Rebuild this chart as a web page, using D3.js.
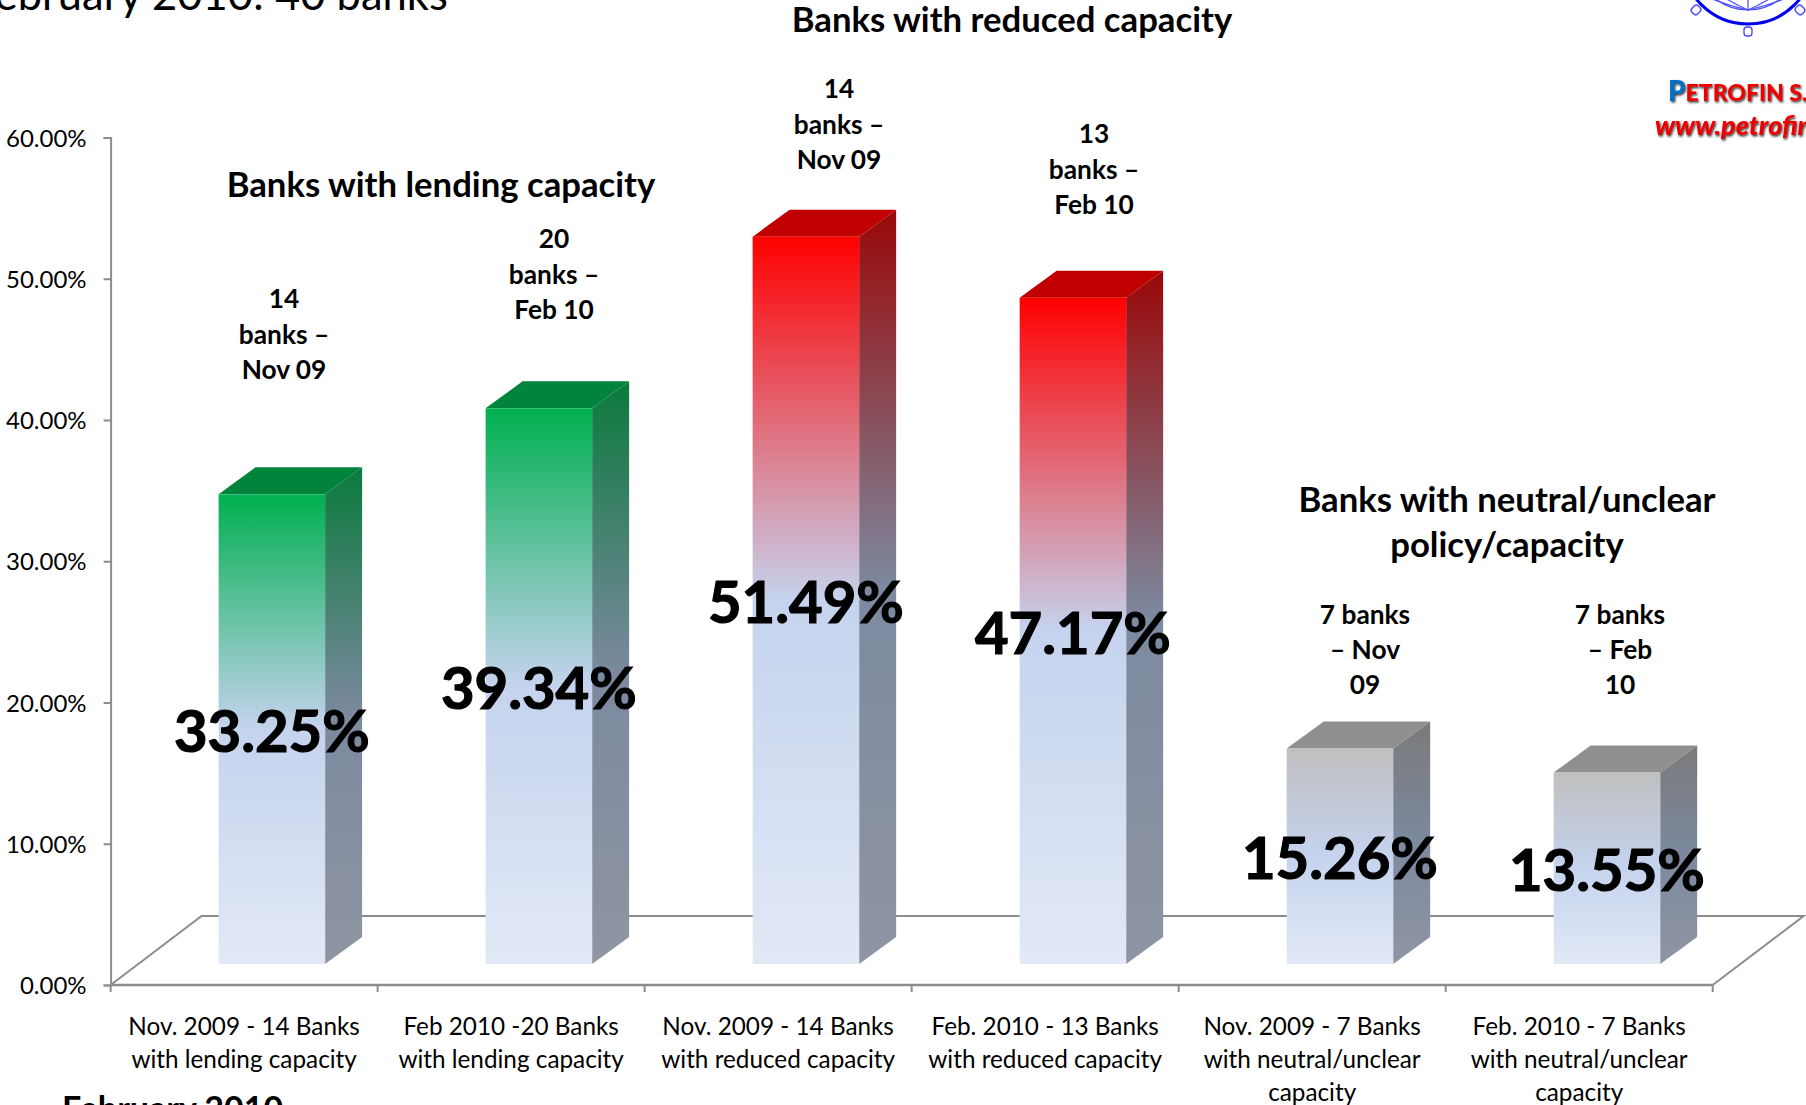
<!DOCTYPE html>
<html>
<head>
<meta charset="utf-8">
<script src="https://cdn.jsdelivr.net/npm/d3@7"></script>
<style>
  html, body { margin: 0; padding: 0; background: #fff; overflow: hidden; }
  text { font-family: Lato, "Open Sans", sans-serif; fill: #000; }
</style>
</head>
<body>
<script>
const categories = [
  ['Nov. 2009 - 14 Banks', 'with lending capacity'],
  ['Feb 2010 -20 Banks', 'with lending capacity'],
  ['Nov. 2009 - 14 Banks', 'with reduced capacity'],
  ['Feb. 2010 - 13 Banks', 'with reduced capacity'],
  ['Nov. 2009 - 7 Banks', 'with neutral/unclear', 'capacity'],
  ['Feb. 2010 - 7 Banks', 'with neutral/unclear', 'capacity']
]
const values = [33.25, 39.34, 51.49, 47.17, 15.26, 13.55]
const groups = ['green', 'green', 'red', 'red', 'gray', 'gray']
const yTicks = [0, 10, 20, 30, 40, 50, 60]
const notes = [
  ['14', 'banks –', 'Nov 09'],
  ['20', 'banks –', 'Feb 10'],
  ['14', 'banks –', 'Nov 09'],
  ['13', 'banks –', 'Feb 10'],
  ['7 banks', '– Nov', '09'],
  ['7 banks', '– Feb', '10']
]
const noteLayout = [[284, 299], [554, 239], [839, 89], [1094, 134], [1365, 615], [1620, 615]]
const palette = {
  green: { face: '#00b050', top: '#00843c', side: '#0a7a3c' },
  red: { face: '#ff0000', top: '#c00000', side: '#990808' },
  gray: { face: '#bfbfbf', top: '#8f8f8f', side: '#7a7a7a' }
}

const width = 1806, height = 1105
const depthX = 37, depthY = 27      // 3d offset of the bars
const floorX = 91, floorY = 69      // 3d offset of the floor
const floorLift = 21                // bar front face sits above the axis line
const axisColor = '#8c8c8c'

const svg = d3.select('body').append('svg')
  .attr('width', width).attr('height', height)
  .attr('viewBox', `0 0 ${width} ${height}`)

const x = d3.scaleBand().domain(d3.range(values.length)).range([110.6, 1712.7])
const y = d3.scaleLinear().domain([0, 60]).range([985, 137.5])

// gradients, one per colour group
const defs = svg.append('defs')
const addGradient = (id, stops) => {
  const g = defs.append('linearGradient').attr('id', id)
    .attr('x1', 0).attr('y1', 0).attr('x2', 0).attr('y2', 1)
  stops.forEach(([o, c]) => g.append('stop').attr('offset', o).attr('stop-color', c))
}
Object.keys(palette).forEach(k => {
  addGradient(`face-${k}`, [[0, palette[k].face], [0.5, '#c5d3ee'], [1, '#e2e9f6']])
  addGradient(`side-${k}`, [[0, palette[k].side], [0.5, '#7c899f'], [1, '#8f95a2']])
})

// floor and axes
svg.append('path')
  .attr('d', d3.line()([
    [x.range()[0], y(0)],
    [x.range()[0] + floorX, y(0) - floorY],
    [x.range()[1] + floorX, y(0) - floorY],
    [x.range()[1], y(0)]
  ]))
  .attr('fill', 'none').attr('stroke', axisColor).attr('stroke-width', 2)

const yAxis = svg.append('g')
  .attr('transform', `translate(${x.range()[0]},0)`)
  .call(d3.axisLeft(y).tickValues(yTicks).tickSize(7).tickPadding(17).tickFormat(d => d.toFixed(2) + '%'))
yAxis.selectAll('path,line').attr('stroke', axisColor).attr('stroke-width', 2)
yAxis.selectAll('text').attr('font-size', 24).attr('dy', '0.36em').style('font-family', 'Lato')

const ticksX = d3.range(values.length + 1).map(i => x.range()[0] + i * x.step())
svg.append('line')
  .attr('x1', x.range()[0]).attr('x2', x.range()[1])
  .attr('y1', y(0)).attr('y2', y(0))
  .attr('stroke', axisColor).attr('stroke-width', 2.5)
svg.selectAll('.xtick').data(ticksX).join('line').attr('class', 'xtick')
  .attr('x1', d => d).attr('x2', d => d)
  .attr('y1', y(0)).attr('y2', y(0) + 7)
  .attr('stroke', axisColor).attr('stroke-width', 2)

// bars
const barOffset = 108, barWidth = 106.5
const bars = svg.selectAll('.bar').data(values).join('g').attr('class', 'bar')
const barLeft = (d, i) => x(i) + barOffset
const barTop = d => y(d) - floorLift
const barBase = y(0) - floorLift

bars.append('path')
  .attr('d', (d, i) => {
    const r = barLeft(d, i) + barWidth
    return d3.line()([[r, barTop(d)], [r + depthX, barTop(d) - depthY], [r + depthX, barBase - depthY], [r, barBase]]) + 'Z'
  })
  .attr('fill', (d, i) => `url(#side-${groups[i]})`)
bars.append('path')
  .attr('d', (d, i) => {
    const l = barLeft(d, i)
    return d3.line()([[l, barTop(d)], [l + depthX, barTop(d) - depthY], [l + barWidth + depthX, barTop(d) - depthY], [l + barWidth, barTop(d)]]) + 'Z'
  })
  .attr('fill', (d, i) => palette[groups[i]].top)
bars.append('rect')
  .attr('x', barLeft).attr('y', barTop)
  .attr('width', barWidth).attr('height', d => barBase - barTop(d))
  .attr('fill', (d, i) => `url(#face-${groups[i]})`)

// value labels
svg.selectAll('.value').data(values).join('text').attr('class', 'value')
  .attr('x', (d, i) => barLeft(d, i) + barWidth / 2)
  .attr('y', d => (barTop(d) + barBase) / 2 + 23)
  .attr('text-anchor', 'middle')
  .attr('font-size', 58).attr('font-weight', 700)
  .attr('stroke', '#000').attr('stroke-width', 1.2)
  .text(d => d.toFixed(2) + '%')

// category labels
const multiline = (sel, lines, cx, firstY, step, size, weight) => {
  const t = sel.append('text').attr('text-anchor', 'middle')
    .attr('font-size', size).attr('font-weight', weight)
  lines.forEach((s, i) => t.append('tspan').attr('x', cx).attr('y', firstY + i * step).text(s))
  return t
}
categories.forEach((lines, i) => {
  multiline(svg, lines, x(i) + x.bandwidth() / 2, 1035, 33, 24.3, 400)
})

// notes above the bars
notes.forEach((lines, i) => {
  const [nx, ny] = noteLayout[i]
  multiline(svg, lines, nx, ny + 9, i < 4 ? 35.6 : 34.8, 26.3, 700)
})

// group headings
multiline(svg, ['Banks with reduced capacity'], 1012, 32, 0, 34.7, 700)
multiline(svg, ['Banks with lending capacity'], 441, 197, 0, 34.7, 700)
multiline(svg, ['Banks with neutral/unclear', 'policy/capacity'], 1507, 512, 45, 34.7, 700)

// slide text cut off by the crop
svg.append('text').attr('x', -28).attr('y', 10)
  .attr('font-size', 43.5).attr('font-weight', 400).text('February 2010: 40 banks')
svg.append('text').attr('x', 62).attr('y', 1121)
  .attr('font-size', 34).attr('font-weight', 700).text('February 2010')

// logo
const logo = svg.append('g').attr('transform', 'translate(1748,-42)')
  .attr('fill', 'none').attr('stroke', '#0000ee')
logo.append('circle').attr('r', 66).attr('stroke-width', 3)
logo.append('circle').attr('r', 52).attr('stroke-width', 1.2).attr('stroke', '#4a4aff')
;[-60, -30, 0, 30, 60].forEach(a => {
  logo.append('path')
    .attr('d', `M0,52Q${a * 0.9},40 ${a * 1.4},${40 - Math.abs(a) * 0.5}`)
    .attr('stroke-width', 1.2).attr('stroke', '#4a4aff')
})
;[-45, 0, 45].forEach(a => {
  logo.append('rect')
    .attr('x', -4).attr('y', 69).attr('width', 8).attr('height', 9).attr('rx', 3)
    .attr('transform', `rotate(${-a})`)
    .attr('stroke-width', 1.4).attr('stroke', '#4a4aff')
})

defs.append('filter').attr('id', 'shadow')
  .append('feDropShadow').attr('dx', 1).attr('dy', 1.5).attr('stdDeviation', 1).attr('flood-color', '#333')
const brand = svg.append('text').attr('x', 1668).attr('y', 101)
  .attr('font-size', 23).attr('font-weight', 900).attr('filter', 'url(#shadow)')
  .style('fill', '#ee0000')
brand.append('tspan').attr('font-size', 28).style('fill', '#0070c0').text('P')
brand.append('tspan').text('ETROFIN S.A.')
svg.append('text').attr('x', 1655).attr('y', 135)
  .attr('font-size', 27).attr('font-weight', 900).attr('font-style', 'italic')
  .attr('filter', 'url(#shadow)').style('fill', '#ee0000')
  .text('www.petrofin.gr')
</script>
</body>
</html>
